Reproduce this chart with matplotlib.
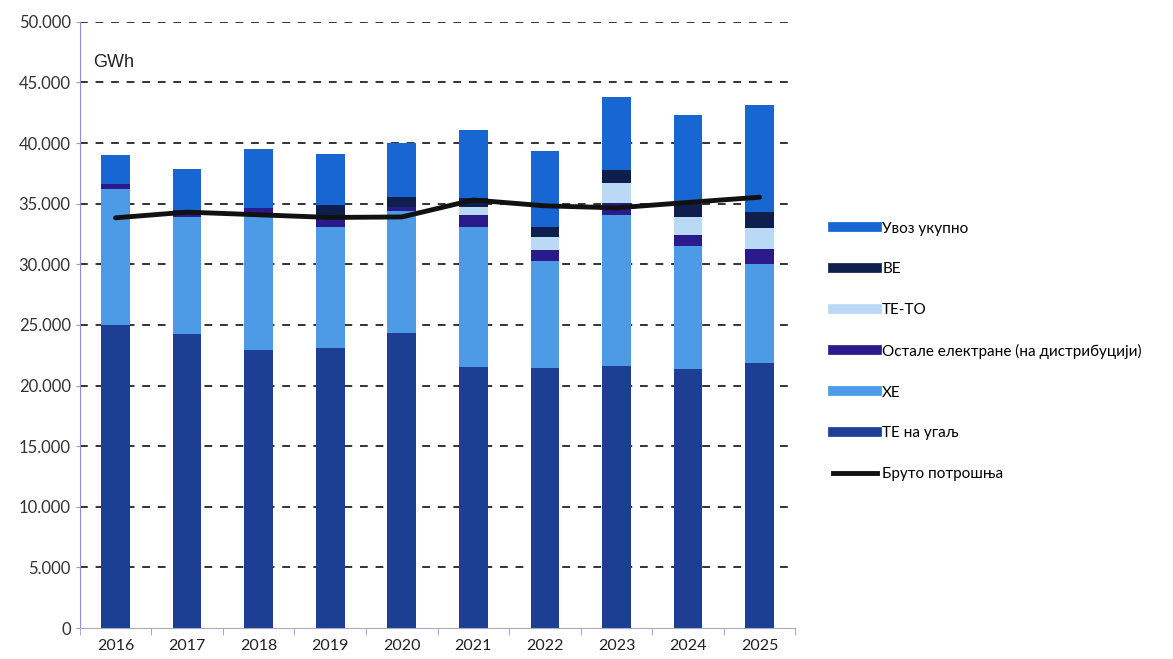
import numpy as np
import matplotlib
matplotlib.use("Agg")
import matplotlib.pyplot as plt
from matplotlib.lines import Line2D
from matplotlib.ticker import FuncFormatter

years = ['2016', '2017', '2018', '2019', '2020', '2021', '2022', '2023', '2024', '2025']

te_ugalj = [25000, 24250, 22950, 23130, 24300, 21560, 21430, 21620, 21350, 21840]
he = [11230, 9650, 11050, 9970, 10100, 11550, 8880, 12460, 10120, 8190]
ostale = [410, 600, 650, 600, 300, 965, 880, 970, 960, 1210]
te_to = [0, 0, 0, 200, 0, 685, 1040, 1650, 1480, 1710]
ve = [0, 0, 0, 1000, 830, 690, 880, 1040, 1100, 1320]
uvoz = [2360, 3350, 4880, 4220, 4470, 5640, 6190, 6050, 7330, 8880]
bruto = [33830, 34300, 34080, 33860, 33900, 35300, 34820, 34650, 35100, 35530]

series = [
    ('ТЕ на угаљ', te_ugalj, '#1c3f94'),
    ('ХЕ', he, '#4d9ae6'),
    ('Остале електране (на дистрибуцији)', ostale, '#2b1a8c'),
    ('ТЕ-ТО', te_to, '#b9d9f5'),
    ('ВЕ', ve, '#0f1f4d'),
    ('Увоз укупно', uvoz, '#1766d2'),
]

plt.rcParams['font.family'] = ['Lato', 'DejaVu Sans']

fig = plt.figure(figsize=(11.73, 6.59), dpi=100)
ax = fig.add_axes([0.068, 0.047, 0.61, 0.92])

x = np.arange(len(years))
bottom = np.zeros(len(years))
for name, vals, col in series:
    ax.bar(x, vals, 0.4, bottom=bottom, color=col, zorder=2)
    bottom += np.array(vals)

ax.plot(x, bruto, color='#111111', lw=3.5, zorder=3, solid_capstyle='round')

ax.set_xlim(-0.5, 9.5)
ax.set_ylim(0, 50000)
ax.set_yticks(np.arange(0, 50001, 5000))
ax.yaxis.set_major_formatter(FuncFormatter(lambda v, p: '0' if v == 0 else f'{int(v):,}'.replace(',', '.')))
ax.set_xticks(x)
ax.set_xticklabels(years)
ax.set_xticks(np.arange(-0.5, 10, 1), minor=True)
ax.tick_params(axis='x', which='major', length=0, pad=8, labelsize=11.5, colors='#222222')
ax.tick_params(axis='x', which='minor', length=5, color='#9a9ac8', direction='out')
ax.tick_params(axis='y', length=3, color='#9a9ac8', labelsize=12, labelcolor='#333333')

for v in np.arange(5000, 50001, 5000):
    ax.axhline(v, color='#333333', lw=1.4, ls=(0, (4, 4)), zorder=1)

for s in ['top', 'right']:
    ax.spines[s].set_visible(False)
ax.spines['left'].set_color('#8c8cdc')
ax.spines['bottom'].set_color('#a8a8c8')

ax.text(-0.32, 46300, 'GWh', fontsize=13, family='Liberation Sans', color='#222222')

handles = [Line2D([0], [0], color=col, lw=7) for name, vals, col in series[::-1]]
labels = [name for name, vals, col in series[::-1]]
handles.append(Line2D([0], [0], color='#111111', lw=3.5))
labels.append('Бруто потрошња')
fig.legend(handles, labels, loc='center left', bbox_to_anchor=(0.698, 0.467),
           frameon=False, fontsize=11, handlelength=2.9, labelspacing=1.75,
           handletextpad=0.35)

fig.savefig('out.png', dpi=100)
